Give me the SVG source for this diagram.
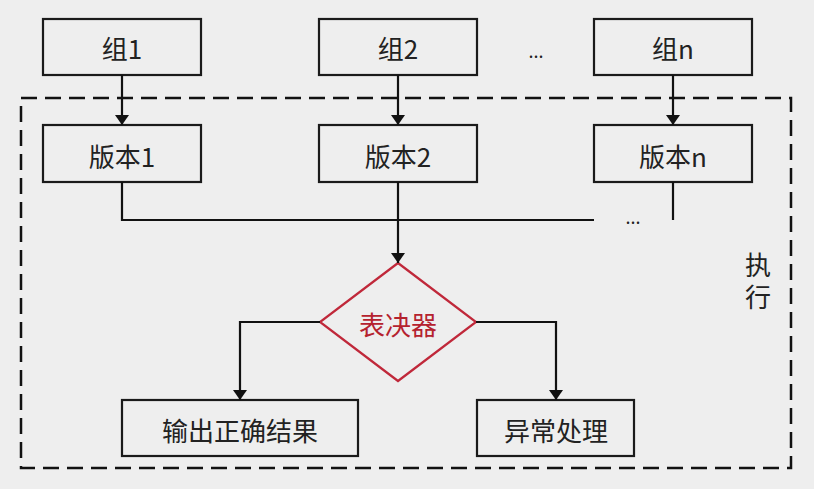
<svg xmlns="http://www.w3.org/2000/svg" width="814" height="489" viewBox="0 0 814 489">
<style>
.box{fill:none;stroke:#1a1a1a;stroke-width:2.2}
.t{font-family:"Noto Sans CJK SC","Noto Sans",sans-serif;font-size:26px;fill:#222;text-anchor:middle;dominant-baseline:central}
.ln{fill:none;stroke:#111;stroke-width:2.2}
.vt{font-family:"Noto Sans CJK SC","Noto Sans",sans-serif;font-size:26px;fill:#222;text-anchor:middle;writing-mode:vertical-rl;letter-spacing:6px}
</style>
<defs>
<marker id="ah" viewBox="0 0 10 14" refX="10" refY="7" markerWidth="10" markerHeight="14" markerUnits="userSpaceOnUse" orient="auto">
<path d="M0,0 L10,7 L0,14 Z" fill="#111"/>
</marker>
</defs>
<rect width="814" height="489" fill="#eeeeee"/>
<rect id="exec-frame" x="21" y="98" width="770" height="370" fill="none" stroke="#111" stroke-width="2.5" stroke-dasharray="16 8"/>
<g id="g1"><rect class="box" x="43" y="19" width="158" height="56"/><text class="t" x="122" y="47">组1</text></g>
<g id="g2"><rect class="box" x="319" y="19" width="158" height="56"/><text class="t" x="398" y="47">组2</text></g>
<g id="gn"><rect class="box" x="594" y="19" width="158" height="56"/><text class="t" x="673" y="47">组n</text></g>
<text class="t" x="536" y="50" style="font-size:18px">...</text>
<g id="v1"><rect class="box" x="43" y="125" width="158" height="57"/><text class="t" x="122" y="155">版本1</text></g>
<g id="v2"><rect class="box" x="319" y="125" width="158" height="57"/><text class="t" x="398" y="155">版本2</text></g>
<g id="vn"><rect class="box" x="594" y="125" width="158" height="57"/><text class="t" x="673" y="155">版本n</text></g>
<g id="voter"><polygon points="398,263 476,322 398,381 320,322" fill="none" stroke="#c0283a" stroke-width="2.2"/><text class="t" x="398" y="323" style="fill:#b5222e">表决器</text></g>
<g id="ok"><rect class="box" x="122" y="400" width="236" height="56"/><text class="t" x="240" y="429">输出正确结果</text></g>
<g id="err"><rect class="box" x="477" y="400" width="157" height="56"/><text class="t" x="556" y="429">异常处理</text></g>
<g id="exec-label"><text class="vt" x="758" y="284">执行</text></g>
<g id="connectors">
<line class="ln" x1="122" y1="75" x2="122" y2="125" marker-end="url(#ah)"/>
<line class="ln" x1="398" y1="75" x2="398" y2="125" marker-end="url(#ah)"/>
<line class="ln" x1="673" y1="75" x2="673" y2="125" marker-end="url(#ah)"/>
<polyline class="ln" points="122,182 122,220 594,220"/>
<line class="ln" x1="673" y1="182" x2="673" y2="220"/>
<line class="ln" x1="398" y1="182" x2="398" y2="263" marker-end="url(#ah)"/>
<polyline class="ln" points="320,322 240,322 240,400" marker-end="url(#ah)"/>
<polyline class="ln" points="476,322 556,322 556,400" marker-end="url(#ah)"/>
<text class="t" x="633" y="216" style="font-size:18px">...</text>
</g>
</svg>
